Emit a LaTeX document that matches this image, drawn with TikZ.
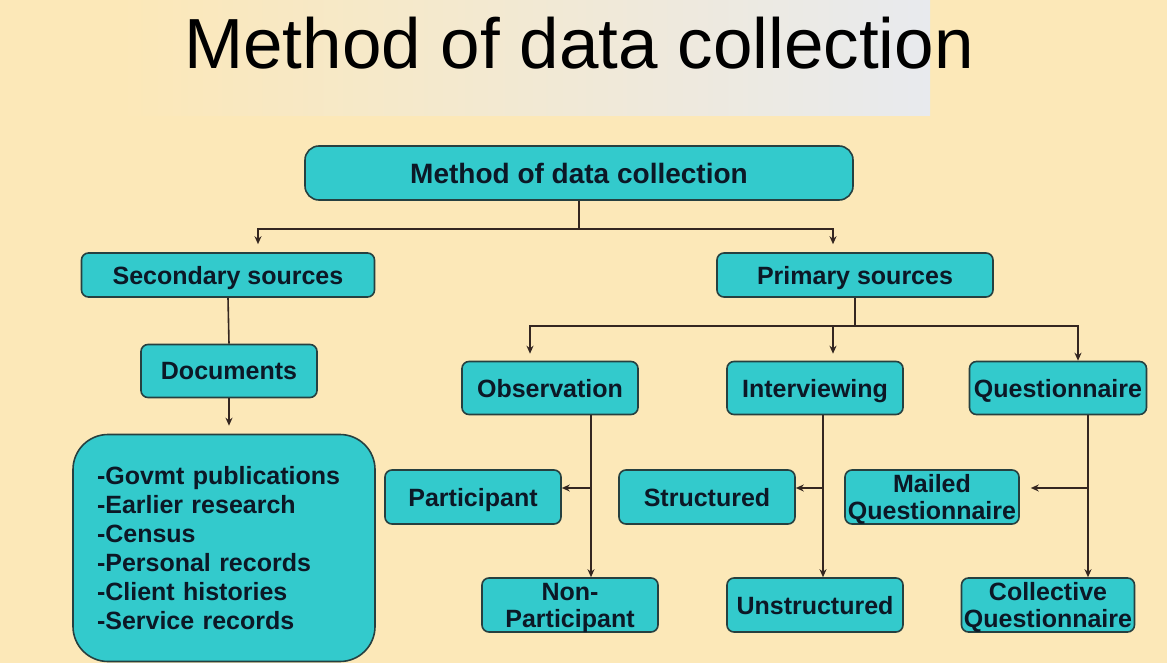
\documentclass[tikz,border=0pt]{standalone}
\usepackage{fontspec}
\setmainfont{Liberation Sans}
\usepackage{tikz}
\usetikzlibrary{arrows.meta}
\definecolor{bgpeach}{RGB}{252,232,184}
\definecolor{panelgray}{RGB}{232,234,238}
\definecolor{boxteal}{RGB}{51,202,204}
\definecolor{boxedge}{RGB}{38,64,64}
\definecolor{linkdark}{RGB}{52,38,32}
\definecolor{textnavy}{RGB}{12,24,38}

\begin{document}
\begin{tikzpicture}[x=1pt,y=-1pt,>={Stealth[length=8pt,width=7pt]}, every node/.style={font=\fontsize{25}{29}\selectfont\bfseries}]
    \tikzset{box/.style={draw=boxedge,fill=boxteal,line width=1.6pt,rounded corners=7pt,text=textnavy,inner sep=0pt,align=center}}
    \tikzset{onebox/.style={box,text depth=0pt}}
    \tikzset{twoline/.style={onebox,font=\fontsize{25}{27}\selectfont\bfseries}}
    \tikzset{link/.style={draw=linkdark,line width=1.6pt}}

    % Background
    \fill[bgpeach] (0,0) rectangle (1167,663);
    \shade[left color=bgpeach,right color=panelgray] (120,0) rectangle (930,116);
    \useasboundingbox (0,0) rectangle (1167,663);

    % Title
    \node[font=\fontsize{71}{80}\selectfont,text=black] (title) at (579,43) {Method of data collection};
    \node[onebox,minimum width=548,minimum height=54,rounded corners=14pt,font=\fontsize{28}{32}\selectfont\bfseries] (top) at (579,173) {Method of data collection};

    % Secondary
    \node[onebox,minimum width=293,minimum height=44] (sec) at (228,275) {Secondary sources};
    \node[onebox,minimum width=176,minimum height=53] (docs) at (229,371) {Documents};
    \node[box,minimum width=302,minimum height=227,rounded corners=35pt,align=left,text width=254] (list) at (224,548)
        {-Govmt publications\\-Earlier research\\-Census\\-Personal records\\-Client histories\\-Service records};

    % Primary
    \node[onebox,minimum width=276,minimum height=44] (pri) at (855,275) {Primary sources};
    \node[onebox,minimum width=176,minimum height=53] (obs) at (550,388) {Observation};
    \node[onebox,minimum width=176,minimum height=53] (intv) at (815,388) {Interviewing};
    \node[onebox,minimum width=177,minimum height=53] (quest) at (1058,388) {Questionnaire};
    \node[onebox,minimum width=176,minimum height=54] (part) at (473,497) {Participant};
    \node[twoline,minimum width=176,minimum height=54] (nonpart) at (570,605) {Non-\\Participant};
    \node[onebox,minimum width=176,minimum height=54] (struct) at (707,497) {Structured};
    \node[onebox,minimum width=176,minimum height=54] (unstruct) at (815,605) {Unstructured};
    \node[twoline,minimum width=174,minimum height=54] (mailed) at (932,497) {Mailed\\Questionnaire};
    \node[twoline,minimum width=173,minimum height=54] (coll) at (1048,605) {Collective\\Questionnaire};

    % top links
    \draw[link] (top.south) -- ++(0,28) coordinate (topj);
    \draw[link,->,shorten >=8pt] (topj) -| ([xshift=30pt]sec.north);
    \draw[link,->,shorten >=8pt] (topj) -| ([xshift=-22pt]pri.north);

    % secondary links
    \draw[link] (sec.south) -- (docs.north);
    \draw[link,->,shorten >=8pt] (docs.south) -- (docs.south |- list.north);

    % primary links
    \draw[link] (pri.south) -- ++(0,28) coordinate (prij);
    \draw[link,->,shorten >=7pt] (prij) -| ([xshift=-20pt]obs.north);
    \draw[link,->,shorten >=7pt] (prij) -| ([xshift=18pt]intv.north);
    \draw[link,->] (prij) -| ([xshift=20pt]quest.north);

    % stems
    \coordinate (obss) at ([xshift=41pt]obs.south);
    \coordinate (intvs) at ([xshift=8pt]intv.south);
    \coordinate (quests) at ([xshift=30pt]quest.south);
    \coordinate (parte) at ([yshift=9pt]part.east);
    \coordinate (structe) at ([yshift=9pt]struct.east);
    \coordinate (mailede) at ([yshift=9pt]mailed.east);
    \draw[link,->] (obss) -- (obss |- nonpart.north);
    \draw[link,->] (parte -| obss) -- (parte);
    \draw[link,->] (intvs) -- (intvs |- unstruct.north);
    \draw[link,->] (structe -| intvs) -- (structe);
    \draw[link,->] (quests) -- (quests |- coll.north);
    \draw[link,->,shorten >=11pt] (mailede -| quests) -- (mailede);
\end{tikzpicture}
\end{document}
